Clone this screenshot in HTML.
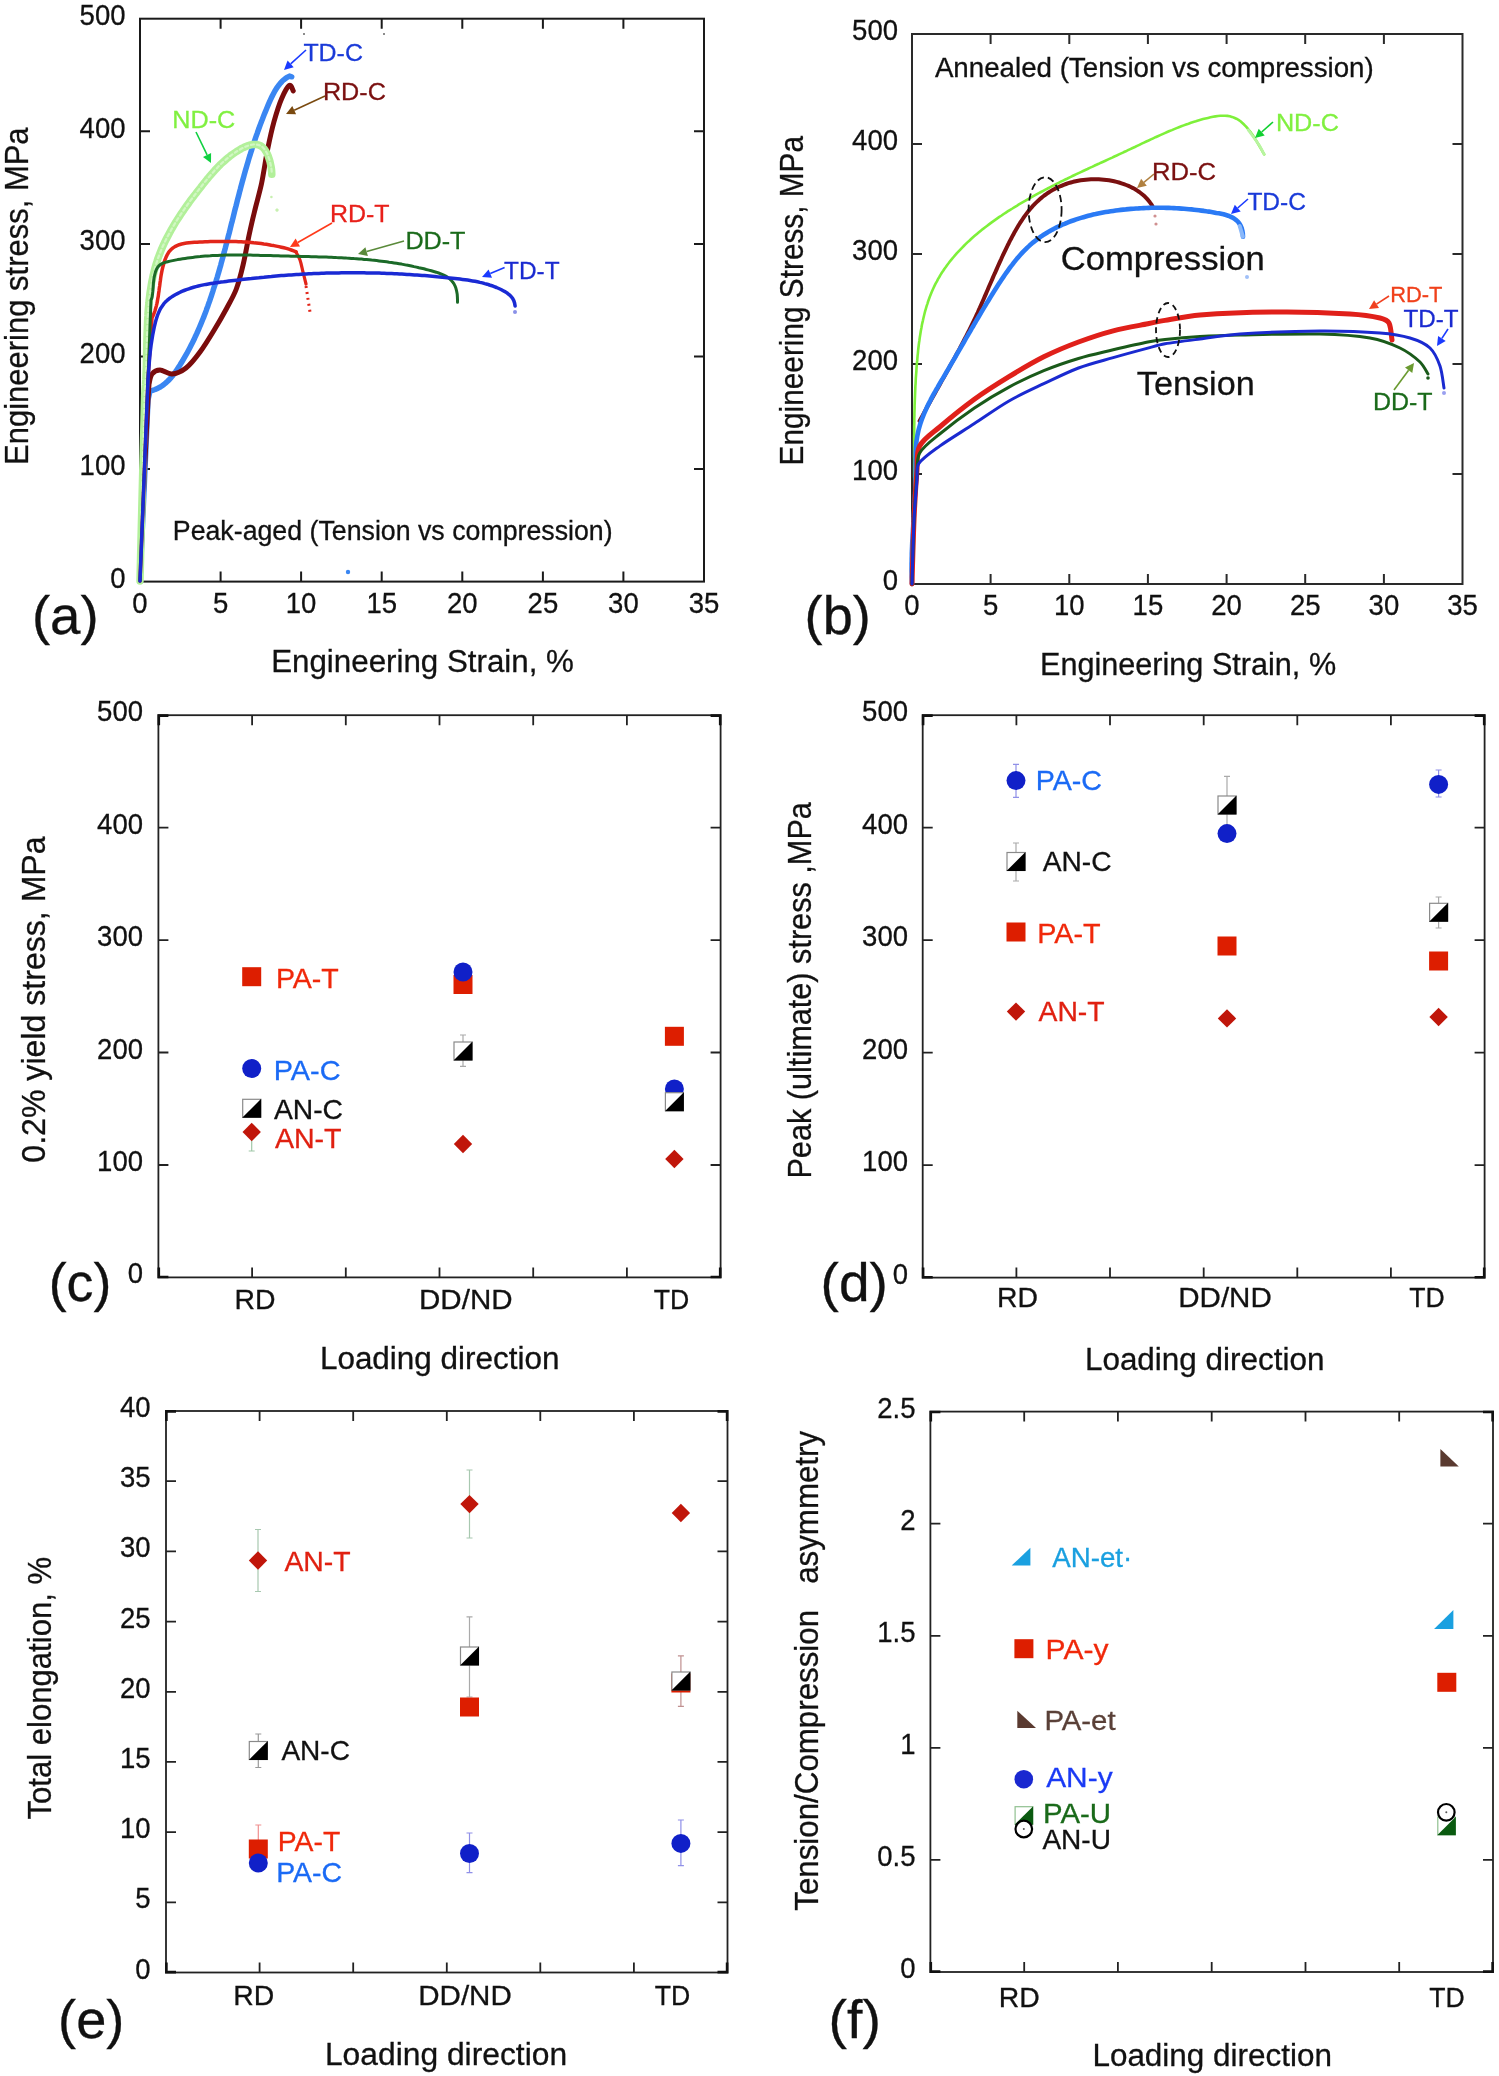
<!DOCTYPE html>
<html><head><meta charset="utf-8"><style>
html,body{margin:0;padding:0;background:#fff;}
svg{display:block;will-change:transform;}
text{font-family:"Liberation Sans", sans-serif;}
</style></head><body>
<svg width="1499" height="2076" viewBox="0 0 1499 2076">
<rect width="1499" height="2076" fill="#fff"/>
<rect x="140.0" y="18.7" width="564.0" height="562.9" fill="none" stroke="#1a1a1a" stroke-width="2"/>
<path d="M220.6,581.6V571.6M220.6,18.7V28.7M301.1,581.6V571.6M301.1,18.7V28.7M381.7,581.6V571.6M381.7,18.7V28.7M462.3,581.6V571.6M462.3,18.7V28.7M542.9,581.6V571.6M542.9,18.7V28.7M623.4,581.6V571.6M623.4,18.7V28.7M140.0,469.0H150.0M704.0,469.0H694.0M140.0,356.4H150.0M704.0,356.4H694.0M140.0,243.9H150.0M704.0,243.9H694.0M140.0,131.3H150.0M704.0,131.3H694.0" stroke="#1a1a1a" stroke-width="2" fill="none"/>
<text x="125.5" y="587.9" font-size="29.5" fill="#111" stroke="#111" stroke-width="0.3" text-anchor="end" textLength="15.3" lengthAdjust="spacingAndGlyphs" xml:space="preserve">0</text>
<text x="125.5" y="475.3" font-size="29.5" fill="#111" stroke="#111" stroke-width="0.3" text-anchor="end" textLength="45.9" lengthAdjust="spacingAndGlyphs" xml:space="preserve">100</text>
<text x="125.5" y="362.7" font-size="29.5" fill="#111" stroke="#111" stroke-width="0.3" text-anchor="end" textLength="45.9" lengthAdjust="spacingAndGlyphs" xml:space="preserve">200</text>
<text x="125.5" y="250.2" font-size="29.5" fill="#111" stroke="#111" stroke-width="0.3" text-anchor="end" textLength="45.9" lengthAdjust="spacingAndGlyphs" xml:space="preserve">300</text>
<text x="125.5" y="137.6" font-size="29.5" fill="#111" stroke="#111" stroke-width="0.3" text-anchor="end" textLength="45.9" lengthAdjust="spacingAndGlyphs" xml:space="preserve">400</text>
<text x="125.5" y="25.0" font-size="29.5" fill="#111" stroke="#111" stroke-width="0.3" text-anchor="end" textLength="45.9" lengthAdjust="spacingAndGlyphs" xml:space="preserve">500</text>
<text x="140.0" y="613.0" font-size="29.5" fill="#111" stroke="#111" stroke-width="0.3" text-anchor="middle" textLength="15.3" lengthAdjust="spacingAndGlyphs" xml:space="preserve">0</text>
<text x="220.6" y="613.0" font-size="29.5" fill="#111" stroke="#111" stroke-width="0.3" text-anchor="middle" textLength="15.3" lengthAdjust="spacingAndGlyphs" xml:space="preserve">5</text>
<text x="301.1" y="613.0" font-size="29.5" fill="#111" stroke="#111" stroke-width="0.3" text-anchor="middle" textLength="30.6" lengthAdjust="spacingAndGlyphs" xml:space="preserve">10</text>
<text x="381.7" y="613.0" font-size="29.5" fill="#111" stroke="#111" stroke-width="0.3" text-anchor="middle" textLength="30.6" lengthAdjust="spacingAndGlyphs" xml:space="preserve">15</text>
<text x="462.3" y="613.0" font-size="29.5" fill="#111" stroke="#111" stroke-width="0.3" text-anchor="middle" textLength="30.6" lengthAdjust="spacingAndGlyphs" xml:space="preserve">20</text>
<text x="542.9" y="613.0" font-size="29.5" fill="#111" stroke="#111" stroke-width="0.3" text-anchor="middle" textLength="30.6" lengthAdjust="spacingAndGlyphs" xml:space="preserve">25</text>
<text x="623.4" y="613.0" font-size="29.5" fill="#111" stroke="#111" stroke-width="0.3" text-anchor="middle" textLength="30.6" lengthAdjust="spacingAndGlyphs" xml:space="preserve">30</text>
<text x="704.0" y="613.0" font-size="29.5" fill="#111" stroke="#111" stroke-width="0.3" text-anchor="middle" textLength="30.6" lengthAdjust="spacingAndGlyphs" xml:space="preserve">35</text>
<text x="31.9" y="633.7" font-size="53" fill="#111" stroke="#111" stroke-width="0.3" textLength="66.8" lengthAdjust="spacingAndGlyphs" xml:space="preserve">(a)</text>
<text x="271.2" y="672.0" font-size="31" fill="#111" stroke="#111" stroke-width="0.3" textLength="302.7" lengthAdjust="spacingAndGlyphs" xml:space="preserve">Engineering Strain, %</text>
<text transform="translate(28.4,464.9) rotate(-90)" x="0" y="0" font-size="34" fill="#111" stroke="#111" stroke-width="0.3" textLength="337.5" lengthAdjust="spacingAndGlyphs" xml:space="preserve">Engineering stress, MPa</text>
<text x="172.8" y="540.0" font-size="27" fill="#111" stroke="#111" stroke-width="0.3" textLength="439.8" lengthAdjust="spacingAndGlyphs" xml:space="preserve">Peak-aged (Tension vs compression)</text>
<path d="M140.0,581.0 L144.5,480.0 L148.0,400.0 L150.0,391.0 L149.9,391.0 L152.6,390.3 L155.1,389.5 L157.4,388.4 L159.7,387.3 L161.8,386.0 L163.9,384.5 L165.8,382.9 L167.6,381.3 L169.4,379.5 L171.1,377.6 L172.7,375.7 L174.2,373.7 L175.7,371.6 L177.1,369.5 L178.5,367.3 L179.9,365.2 L181.2,363.0 L182.6,360.8 L183.8,358.6 L185.1,356.4 L186.4,354.2 L187.6,352.0 L188.8,349.8 L190.0,347.5 L191.1,345.3 L192.3,343.0 L193.4,340.8 L194.5,338.5 L195.5,336.2 L196.6,333.9 L197.6,331.6 L198.6,329.3 L199.6,327.0 L200.6,324.7 L201.6,322.3 L202.5,320.0 L203.5,317.7 L204.4,315.3 L205.3,313.0 L206.2,310.6 L207.0,308.2 L207.9,305.9 L208.7,303.5 L209.6,301.1 L210.4,298.7 L211.2,296.3 L212.0,293.9 L212.8,291.5 L213.5,289.1 L214.3,286.7 L215.1,284.3 L215.8,281.9 L216.5,279.5 L217.3,277.0 L218.0,274.6 L218.7,272.2 L219.4,269.7 L220.1,267.3 L220.8,264.9 L221.4,262.4 L222.1,260.0 L222.8,257.5 L223.4,255.1 L224.1,252.6 L224.7,250.2 L225.4,247.7 L226.0,245.3 L226.7,242.8 L227.3,240.4 L227.9,237.9 L228.5,235.5 L229.2,233.0 L229.8,230.6 L230.4,228.1 L231.0,225.6 L231.6,223.2 L232.3,220.7 L232.9,218.3 L233.5,215.8 L234.1,213.4 L234.7,210.9 L235.3,208.5 L236.0,206.0 L236.6,203.6 L237.2,201.1 L237.8,198.7 L238.5,196.3 L239.1,193.8 L239.7,191.4 L240.4,188.9 L241.0,186.5 L241.7,184.1 L242.3,181.7 L243.0,179.2 L243.7,176.8 L244.3,174.4 L245.0,172.0 L245.7,169.6 L246.4,167.2 L247.1,164.8 L247.8,162.4 L248.5,160.0 L249.2,157.6 L250.0,155.2 L250.7,152.8 L251.5,150.4 L252.2,148.0 L253.0,145.6 L253.8,143.2 L254.6,140.8 L255.4,138.4 L256.2,136.0 L257.1,133.6 L257.9,131.2 L258.8,128.8 L259.6,126.5 L260.5,124.1 L261.4,121.7 L262.4,119.3 L263.3,116.9 L264.2,114.5 L265.2,112.1 L266.2,109.7 L267.2,107.3 L268.2,104.9 L269.2,102.5 L270.3,100.1 L271.4,97.8 L272.5,95.5 L273.7,93.2 L274.9,91.0 L276.2,88.9 L277.6,86.8 L279.0,84.9 L280.5,83.1 L282.1,81.3 L283.8,79.8 L285.6,78.3 L287.5,77.1 L289.5,76.1 L291.7,76.8" fill="none" stroke="#3a86f2" stroke-width="5.5" stroke-linecap="round" stroke-linejoin="round"/>
<path d="M140.0,581.0 L144.0,480.0 L148.0,400.0 L149.0,384.0 L149.0,384.0 C149.5,382.3 150.2,376.3 152.0,374.0 C153.8,371.7 157.0,370.0 160.0,370.0 C163.3,370.0 167.8,374.3 172.0,374.0 C176.3,373.7 182.0,371.1 186.0,368.0 C190.7,364.3 195.8,357.7 200.0,352.0 C204.7,345.7 209.8,337.3 214.2,330.0 C218.6,322.8 223.0,315.0 226.7,308.2 C230.1,301.9 233.8,295.7 236.3,289.0 C239.0,281.8 241.2,273.0 243.1,264.9 C245.2,256.1 247.4,243.2 248.9,236.0 C249.9,231.3 250.9,226.7 252.0,222.0 C253.1,217.2 254.4,212.1 255.6,207.1 C257.2,200.7 259.9,191.3 261.6,183.3 C263.6,173.6 265.7,158.9 267.8,148.6 C269.6,139.6 271.7,130.1 274.0,121.7 C276.2,113.8 279.1,104.5 281.7,98.5 C283.7,93.8 287.5,86.7 289.4,85.4 C291.2,84.2 292.6,89.9 293.2,90.8" fill="none" stroke="#7a0c0c" stroke-width="5" stroke-linecap="round" stroke-linejoin="round"/>
<path d="M140.0,581.0 L142.0,500.0 L144.7,394.6 L144.7,394.5 L144.9,392.1 L145.1,389.6 L145.3,387.2 L145.5,384.7 L145.6,382.2 L145.8,379.7 L145.9,377.2 L146.0,374.7 L146.1,372.2 L146.2,369.7 L146.3,367.2 L146.4,364.6 L146.4,362.1 L146.5,359.6 L146.6,357.0 L146.6,354.4 L146.7,351.9 L146.7,349.3 L146.8,346.8 L146.8,344.2 L146.9,341.6 L146.9,339.1 L147.0,336.5 L147.1,333.9 L147.2,331.4 L147.3,328.8 L147.4,326.2 L147.5,323.6 L147.6,321.1 L147.7,318.5 L147.9,316.0 L148.0,313.4 L148.2,310.8 L148.4,308.3 L148.6,305.7 L148.9,303.2 L149.1,300.7 L149.4,298.1 L149.7,295.6 L150.0,293.1 L150.4,290.6 L150.8,288.1 L151.2,285.6 L151.6,283.1 L152.1,280.6 L152.6,278.2 L153.1,275.7 L153.7,273.3 L154.3,270.9 L154.9,268.4 L155.6,266.0 L156.3,263.6 L157.1,261.2 L157.8,258.9 L158.7,256.5 L159.6,254.2 L160.5,251.9 L161.4,249.5 L162.4,247.2 L163.4,245.0 L164.5,242.7 L165.6,240.4 L166.7,238.2 L167.9,235.9 L169.1,233.7 L170.3,231.5 L171.5,229.3 L172.8,227.1 L174.1,224.9 L175.4,222.7 L176.7,220.6 L178.1,218.4 L179.5,216.3 L180.9,214.2 L182.3,212.1 L183.8,210.0 L185.2,207.9 L186.7,205.8 L188.2,203.7 L189.7,201.6 L191.2,199.6 L192.8,197.5 L194.3,195.5 L195.9,193.5 L197.4,191.5 L199.0,189.5 L200.6,187.5 L202.1,185.5 L203.7,183.5 L205.3,181.5 L206.9,179.5 L208.5,177.6 L210.1,175.7 L211.8,173.8 L213.4,171.9 L215.1,170.0 L216.9,168.2 L218.6,166.3 L220.4,164.5 L222.3,162.8 L224.2,161.1 L226.1,159.4 L228.1,157.7 L230.1,156.1 L232.2,154.5 L234.4,153.0 L236.6,151.5 L238.9,150.1 L241.2,148.7 L243.6,147.5 L245.9,146.5 L248.3,145.6 L250.6,144.9 L252.9,144.5 L255.0,144.4 L257.1,144.6 L259.1,145.1 L261.0,146.0 L262.7,147.3 L264.3,149.0 L265.7,151.1 L267.0,153.3 L268.1,155.8 L269.0,158.5 L269.9,161.2 L270.5,164.0 L271.1,166.7 L271.5,169.4 L271.7,171.9 L271.8,174.3" fill="none" stroke="#b2f09a" stroke-width="7.5" stroke-linecap="round" stroke-linejoin="round"/>
<path d="M140.0,581.0 L142.0,500.0 L144.7,394.6 L144.7,394.5 L144.9,392.1 L145.1,389.6 L145.3,387.2 L145.5,384.7 L145.6,382.2 L145.8,379.7 L145.9,377.2 L146.0,374.7 L146.1,372.2 L146.2,369.7 L146.3,367.2 L146.4,364.6 L146.4,362.1 L146.5,359.6 L146.6,357.0 L146.6,354.4 L146.7,351.9 L146.7,349.3 L146.8,346.8 L146.8,344.2 L146.9,341.6 L146.9,339.1 L147.0,336.5 L147.1,333.9 L147.2,331.4 L147.3,328.8 L147.4,326.2 L147.5,323.6 L147.6,321.1 L147.7,318.5 L147.9,316.0 L148.0,313.4 L148.2,310.8 L148.4,308.3 L148.6,305.7 L148.9,303.2 L149.1,300.7 L149.4,298.1 L149.7,295.6 L150.0,293.1 L150.4,290.6 L150.8,288.1 L151.2,285.6 L151.6,283.1 L152.1,280.6 L152.6,278.2 L153.1,275.7 L153.7,273.3 L154.3,270.9 L154.9,268.4 L155.6,266.0 L156.3,263.6 L157.1,261.2 L157.8,258.9 L158.7,256.5 L159.6,254.2 L160.5,251.9 L161.4,249.5 L162.4,247.2 L163.4,245.0 L164.5,242.7 L165.6,240.4 L166.7,238.2 L167.9,235.9 L169.1,233.7 L170.3,231.5 L171.5,229.3 L172.8,227.1 L174.1,224.9 L175.4,222.7 L176.7,220.6 L178.1,218.4 L179.5,216.3 L180.9,214.2 L182.3,212.1 L183.8,210.0 L185.2,207.9 L186.7,205.8 L188.2,203.7 L189.7,201.6 L191.2,199.6 L192.8,197.5 L194.3,195.5 L195.9,193.5 L197.4,191.5 L199.0,189.5 L200.6,187.5 L202.1,185.5 L203.7,183.5 L205.3,181.5 L206.9,179.5 L208.5,177.6 L210.1,175.7 L211.8,173.8 L213.4,171.9 L215.1,170.0 L216.9,168.2 L218.6,166.3 L220.4,164.5 L222.3,162.8 L224.2,161.1 L226.1,159.4 L228.1,157.7 L230.1,156.1 L232.2,154.5 L234.4,153.0 L236.6,151.5 L238.9,150.1 L241.2,148.7 L243.6,147.5 L245.9,146.5 L248.3,145.6 L250.6,144.9 L252.9,144.5 L255.0,144.4 L257.1,144.6 L259.1,145.1 L261.0,146.0 L262.7,147.3 L264.3,149.0 L265.7,151.1 L267.0,153.3 L268.1,155.8 L269.0,158.5 L269.9,161.2 L270.5,164.0 L271.1,166.7 L271.5,169.4 L271.7,171.9 L271.8,174.3" fill="none" stroke="#d2f7c4" stroke-width="2.2" stroke-linecap="round" stroke-linejoin="round" stroke-dasharray="3,3"/>
<path d="M140.0,581.0 L148.0,380.0 L152.0,318.0 L152.0,318.0 L153.1,315.7 L154.0,313.4 L154.9,311.0 L155.6,308.6 L156.3,306.1 L156.9,303.7 L157.4,301.2 L157.8,298.6 L158.3,296.1 L158.6,293.5 L159.0,290.9 L159.3,288.3 L159.7,285.7 L160.0,283.1 L160.4,280.5 L160.7,277.9 L161.1,275.3 L161.6,272.7 L162.1,270.1 L162.7,267.5 L163.4,265.0 L164.1,262.5 L164.9,260.0 L165.9,257.6 L167.0,255.2 L168.2,253.1 L169.6,251.1 L171.2,249.3 L173.0,247.9 L174.9,246.6 L177.0,245.6 L179.2,244.7 L181.6,244.0 L184.0,243.5 L186.5,243.1 L189.1,242.7 L191.8,242.5 L194.4,242.3 L197.1,242.2 L199.7,242.0 L202.4,241.9 L205.0,241.8 L207.6,241.7 L210.3,241.6 L212.9,241.6 L215.5,241.5 L218.1,241.5 L220.6,241.4 L223.2,241.4 L225.8,241.4 L228.3,241.4 L230.9,241.5 L233.4,241.5 L236.0,241.6 L238.5,241.7 L241.1,241.8 L243.6,242.0 L246.1,242.1 L248.6,242.3 L251.2,242.5 L253.7,242.8 L256.2,243.0 L258.7,243.3 L261.2,243.6 L263.8,244.0 L266.3,244.3 L268.8,244.7 L271.3,245.2 L273.8,245.6 L276.3,246.1 L278.9,246.6 L281.4,247.2 L283.9,247.8 L286.4,248.4 L288.9,249.2 L291.3,250.0 L293.7,250.9 L296.1,251.9" fill="none" stroke="#e2261a" stroke-width="3.5" stroke-linecap="round" stroke-linejoin="round"/>
<path d="M296.0,252.0 C296.7,253.3 299.0,257.2 300.0,260.0 C301.2,263.3 302.0,268.0 303.0,272.0 C304.0,276.0 305.5,282.0 306.0,284.0" fill="none" stroke="#e2261a" stroke-width="3.2" stroke-linecap="round" stroke-linejoin="round"/>
<path d="M306,286 L310,312" stroke="#e2261a" stroke-width="3" stroke-dasharray="2,4" fill="none"/>
<path d="M140.0,581.0 L148.0,380.0 L151.0,300.0 L151.0,300.0 L151.7,298.5 L152.2,296.6 L152.5,294.4 L152.8,291.9 L153.0,289.2 L153.2,286.3 L153.4,283.4 L153.7,280.5 L154.1,277.6 L154.7,274.8 L155.4,272.1 L156.3,269.7 L157.5,267.5 L159.0,265.7 L160.8,264.3 L162.9,263.2 L165.2,262.4 L167.7,261.7 L170.2,261.1 L172.7,260.6 L175.1,260.1 L177.6,259.6 L180.1,259.2 L182.6,258.8 L185.1,258.4 L187.6,258.0 L190.1,257.7 L192.6,257.4 L195.1,257.1 L197.7,256.8 L200.2,256.6 L202.7,256.3 L205.2,256.1 L207.7,255.9 L210.2,255.8 L212.7,255.6 L215.2,255.5 L217.7,255.4 L220.3,255.3 L222.8,255.2 L225.3,255.1 L227.8,255.1 L230.3,255.1 L232.9,255.0 L235.4,255.0 L237.9,255.0 L240.4,255.0 L242.9,255.0 L245.5,255.1 L248.0,255.1 L250.5,255.1 L253.0,255.2 L255.6,255.2 L258.1,255.3 L260.6,255.4 L263.2,255.4 L265.7,255.5 L268.2,255.6 L270.7,255.6 L273.3,255.7 L275.8,255.8 L278.3,255.8 L280.8,255.9 L283.4,256.0 L285.9,256.0 L288.4,256.1 L291.0,256.2 L293.5,256.2 L296.0,256.3 L298.6,256.3 L301.1,256.4 L303.6,256.5 L306.1,256.5 L308.7,256.6 L311.2,256.7 L313.7,256.7 L316.2,256.8 L318.8,256.9 L321.3,257.0 L323.8,257.0 L326.3,257.1 L328.9,257.2 L331.4,257.3 L333.9,257.4 L336.4,257.6 L339.0,257.7 L341.5,257.8 L344.0,257.9 L346.5,258.1 L349.0,258.2 L351.5,258.4 L354.1,258.6 L356.6,258.7 L359.1,258.9 L361.6,259.1 L364.1,259.4 L366.6,259.6 L369.1,259.8 L371.6,260.1 L374.1,260.3 L376.6,260.6 L379.1,260.9 L381.6,261.2 L384.1,261.5 L386.6,261.8 L389.1,262.2 L391.6,262.5 L394.1,262.9 L396.6,263.3 L399.1,263.7 L401.6,264.1 L404.1,264.6 L406.5,265.1 L409.0,265.5 L411.5,266.0 L414.0,266.6 L416.5,267.1 L418.9,267.7 L421.4,268.2 L423.9,268.8 L426.3,269.5 L428.8,270.1 L431.3,270.8 L433.7,271.5 L436.2,272.2 L438.6,273.0 L440.9,273.8 L443.2,274.8 L445.3,275.9 L447.4,277.1 L449.3,278.5 L451.0,280.1 L452.6,281.9 L454.0,283.9 L455.1,286.1 L456.0,288.6 L456.7,291.4 L457.2,294.2 L457.4,297.1 L457.5,299.9 L457.5,302.3" fill="none" stroke="#1b6a28" stroke-width="3" stroke-linecap="round" stroke-linejoin="round"/>
<path d="M140.0,581.0 L148.0,380.0 L148.0,380.0 L148.2,377.5 L148.3,374.9 L148.5,372.4 L148.7,369.9 L148.9,367.4 L149.1,364.9 L149.3,362.4 L149.5,359.9 L149.7,357.4 L150.0,354.9 L150.2,352.4 L150.5,349.9 L150.8,347.5 L151.1,345.0 L151.5,342.5 L151.9,340.0 L152.3,337.5 L152.7,335.0 L153.2,332.4 L153.7,329.9 L154.2,327.4 L154.8,324.8 L155.4,322.3 L156.1,319.8 L156.9,317.3 L157.7,314.8 L158.7,312.4 L159.8,310.1 L160.9,307.9 L162.3,305.9 L163.7,303.9 L165.3,302.1 L167.1,300.4 L169.0,298.8 L171.0,297.4 L173.1,296.0 L175.2,294.7 L177.4,293.6 L179.6,292.5 L181.8,291.4 L184.1,290.5 L186.4,289.6 L188.8,288.8 L191.2,288.0 L193.6,287.3 L196.0,286.6 L198.4,286.0 L200.9,285.4 L203.4,284.9 L205.9,284.4 L208.4,284.0 L210.9,283.6 L213.5,283.2 L216.0,282.8 L218.6,282.4 L221.1,282.1 L223.7,281.8 L226.2,281.4 L228.7,281.1 L231.3,280.8 L233.8,280.5 L236.3,280.2 L238.8,279.9 L241.4,279.6 L243.9,279.3 L246.4,279.0 L248.9,278.7 L251.4,278.5 L253.9,278.2 L256.4,277.9 L258.9,277.7 L261.4,277.4 L263.9,277.2 L266.4,276.9 L268.9,276.7 L271.4,276.5 L273.8,276.2 L276.3,276.0 L278.8,275.8 L281.3,275.6 L283.8,275.4 L286.3,275.2 L288.8,275.0 L291.3,274.9 L293.8,274.7 L296.3,274.5 L298.8,274.4 L301.3,274.2 L303.8,274.1 L306.3,274.0 L308.8,273.8 L311.3,273.7 L313.8,273.6 L316.3,273.5 L318.8,273.4 L321.3,273.3 L323.9,273.2 L326.4,273.1 L328.9,273.1 L331.4,273.0 L333.9,273.0 L336.4,272.9 L338.9,272.9 L341.4,272.8 L343.9,272.8 L346.5,272.8 L349.0,272.8 L351.5,272.8 L354.0,272.8 L356.5,272.8 L359.0,272.8 L361.6,272.8 L364.1,272.8 L366.6,272.9 L369.1,272.9 L371.6,273.0 L374.2,273.0 L376.7,273.1 L379.2,273.1 L381.7,273.2 L384.2,273.3 L386.8,273.4 L389.3,273.5 L391.8,273.6 L394.3,273.7 L396.9,273.8 L399.4,274.0 L401.9,274.1 L404.4,274.2 L407.0,274.4 L409.5,274.5 L412.0,274.7 L414.5,274.9 L417.1,275.0 L419.6,275.2 L422.1,275.4 L424.6,275.6 L427.2,275.8 L429.7,276.0 L432.2,276.2 L434.7,276.4 L437.3,276.7 L439.8,276.9 L442.3,277.2 L444.9,277.4 L447.4,277.7 L449.9,277.9 L452.4,278.2 L455.0,278.5 L457.5,278.8 L460.0,279.1 L462.5,279.4 L465.1,279.7 L467.6,280.1 L470.1,280.5 L472.5,280.9 L475.0,281.3 L477.5,281.8 L479.9,282.4 L482.4,282.9 L484.8,283.6 L487.2,284.2 L489.5,285.0 L491.9,285.7 L494.2,286.6 L496.5,287.5 L498.8,288.5 L501.0,289.5 L503.2,290.7 L505.4,291.9 L507.5,293.3 L509.4,294.8 L511.1,296.5 L512.6,298.4 L513.8,300.6 L514.6,303.1 L515.1,306.0" fill="none" stroke="#1a2ad4" stroke-width="3.5" stroke-linecap="round" stroke-linejoin="round"/>
<circle cx="277.0" cy="210.0" r="1.5" fill="#c8f0b0"/>
<circle cx="271.4" cy="197.0" r="1.3" fill="#c8f0b0"/>
<circle cx="515.0" cy="312.0" r="2" fill="#8a90e8"/>
<circle cx="277.0" cy="210.0" r="1.5" fill="#c8f0b0"/>
<circle cx="348.0" cy="572.0" r="2.2" fill="#3a86f2"/>
<circle cx="304.0" cy="34.0" r="1" fill="#666"/>
<circle cx="384.0" cy="34.0" r="1" fill="#666"/>
<line x1="306.0" y1="50.0" x2="290.7" y2="63.9" stroke="#1a3aff" stroke-width="1.6"/>
<polygon points="284.0,70.0 287.6,60.6 293.7,67.3" fill="#1a3aff"/>
<line x1="325.0" y1="96.0" x2="294.2" y2="110.2" stroke="#7a4a10" stroke-width="1.6"/>
<polygon points="286.0,114.0 292.3,106.1 296.1,114.3" fill="#7a4a10"/>
<line x1="196.0" y1="132.0" x2="207.1" y2="154.9" stroke="#10d040" stroke-width="1.6"/>
<polygon points="211.0,163.0 203.0,156.9 211.1,152.9" fill="#10d040"/>
<line x1="332.0" y1="223.0" x2="297.8" y2="242.5" stroke="#ff3a1a" stroke-width="1.6"/>
<polygon points="290.0,247.0 295.6,238.6 300.0,246.4" fill="#ff3a1a"/>
<line x1="404.0" y1="241.0" x2="366.7" y2="251.6" stroke="#5a8a3a" stroke-width="1.6"/>
<polygon points="358.0,254.0 365.4,247.2 367.9,255.9" fill="#5a8a3a"/>
<line x1="504.6" y1="267.5" x2="490.3" y2="273.5" stroke="#1a3aff" stroke-width="1.6"/>
<polygon points="482.0,277.0 488.6,269.4 492.0,277.7" fill="#1a3aff"/>
<text x="303.4" y="61.0" font-size="24.5" fill="#1a3ad8" stroke="#1a3ad8" stroke-width="0.3" textLength="59.5" lengthAdjust="spacingAndGlyphs" xml:space="preserve">TD-C</text>
<text x="322.9" y="100.0" font-size="24.5" fill="#7a1010" stroke="#7a1010" stroke-width="0.3" textLength="63.0" lengthAdjust="spacingAndGlyphs" xml:space="preserve">RD-C</text>
<text x="172.3" y="128.0" font-size="24.5" fill="#80f040" stroke="#80f040" stroke-width="0.3" textLength="63.0" lengthAdjust="spacingAndGlyphs" xml:space="preserve">ND-C</text>
<text x="330.0" y="222.0" font-size="24.5" fill="#e8201a" stroke="#e8201a" stroke-width="0.3" textLength="59.6" lengthAdjust="spacingAndGlyphs" xml:space="preserve">RD-T</text>
<text x="405.4" y="249.4" font-size="24.5" fill="#1a6a1a" stroke="#1a6a1a" stroke-width="0.3" textLength="60.1" lengthAdjust="spacingAndGlyphs" xml:space="preserve">DD-T</text>
<text x="504.1" y="279.3" font-size="24.5" fill="#1a2ad0" stroke="#1a2ad0" stroke-width="0.3" textLength="55.5" lengthAdjust="spacingAndGlyphs" xml:space="preserve">TD-T</text>
<rect x="912.0" y="34.0" width="550.5" height="550.0" fill="none" stroke="#2a2a2a" stroke-width="2"/>
<path d="M990.6,584.0V574.0M990.6,34.0V44.0M1069.3,584.0V574.0M1069.3,34.0V44.0M1147.9,584.0V574.0M1147.9,34.0V44.0M1226.6,584.0V574.0M1226.6,34.0V44.0M1305.2,584.0V574.0M1305.2,34.0V44.0M1383.9,584.0V574.0M1383.9,34.0V44.0M912.0,474.0H922.0M1462.5,474.0H1452.5M912.0,364.0H922.0M1462.5,364.0H1452.5M912.0,254.0H922.0M1462.5,254.0H1452.5M912.0,144.0H922.0M1462.5,144.0H1452.5" stroke="#2a2a2a" stroke-width="2" fill="none"/>
<text x="898.0" y="590.3" font-size="29.5" fill="#111" stroke="#111" stroke-width="0.3" text-anchor="end" textLength="15.3" lengthAdjust="spacingAndGlyphs" xml:space="preserve">0</text>
<text x="898.0" y="480.3" font-size="29.5" fill="#111" stroke="#111" stroke-width="0.3" text-anchor="end" textLength="45.9" lengthAdjust="spacingAndGlyphs" xml:space="preserve">100</text>
<text x="898.0" y="370.3" font-size="29.5" fill="#111" stroke="#111" stroke-width="0.3" text-anchor="end" textLength="45.9" lengthAdjust="spacingAndGlyphs" xml:space="preserve">200</text>
<text x="898.0" y="260.3" font-size="29.5" fill="#111" stroke="#111" stroke-width="0.3" text-anchor="end" textLength="45.9" lengthAdjust="spacingAndGlyphs" xml:space="preserve">300</text>
<text x="898.0" y="150.3" font-size="29.5" fill="#111" stroke="#111" stroke-width="0.3" text-anchor="end" textLength="45.9" lengthAdjust="spacingAndGlyphs" xml:space="preserve">400</text>
<text x="898.0" y="40.3" font-size="29.5" fill="#111" stroke="#111" stroke-width="0.3" text-anchor="end" textLength="45.9" lengthAdjust="spacingAndGlyphs" xml:space="preserve">500</text>
<text x="912.0" y="615.0" font-size="29.5" fill="#111" stroke="#111" stroke-width="0.3" text-anchor="middle" textLength="15.3" lengthAdjust="spacingAndGlyphs" xml:space="preserve">0</text>
<text x="990.6" y="615.0" font-size="29.5" fill="#111" stroke="#111" stroke-width="0.3" text-anchor="middle" textLength="15.3" lengthAdjust="spacingAndGlyphs" xml:space="preserve">5</text>
<text x="1069.3" y="615.0" font-size="29.5" fill="#111" stroke="#111" stroke-width="0.3" text-anchor="middle" textLength="30.6" lengthAdjust="spacingAndGlyphs" xml:space="preserve">10</text>
<text x="1147.9" y="615.0" font-size="29.5" fill="#111" stroke="#111" stroke-width="0.3" text-anchor="middle" textLength="30.6" lengthAdjust="spacingAndGlyphs" xml:space="preserve">15</text>
<text x="1226.6" y="615.0" font-size="29.5" fill="#111" stroke="#111" stroke-width="0.3" text-anchor="middle" textLength="30.6" lengthAdjust="spacingAndGlyphs" xml:space="preserve">20</text>
<text x="1305.2" y="615.0" font-size="29.5" fill="#111" stroke="#111" stroke-width="0.3" text-anchor="middle" textLength="30.6" lengthAdjust="spacingAndGlyphs" xml:space="preserve">25</text>
<text x="1383.9" y="615.0" font-size="29.5" fill="#111" stroke="#111" stroke-width="0.3" text-anchor="middle" textLength="30.6" lengthAdjust="spacingAndGlyphs" xml:space="preserve">30</text>
<text x="1462.5" y="615.0" font-size="29.5" fill="#111" stroke="#111" stroke-width="0.3" text-anchor="middle" textLength="30.6" lengthAdjust="spacingAndGlyphs" xml:space="preserve">35</text>
<text x="804.6" y="633.5" font-size="53" fill="#111" stroke="#111" stroke-width="0.3" textLength="66.2" lengthAdjust="spacingAndGlyphs" xml:space="preserve">(b)</text>
<text x="1040.0" y="675.0" font-size="31" fill="#111" stroke="#111" stroke-width="0.3" textLength="296.1" lengthAdjust="spacingAndGlyphs" xml:space="preserve">Engineering Strain, %</text>
<text transform="translate(803.0,465.4) rotate(-90)" x="0" y="0" font-size="33.5" fill="#111" stroke="#111" stroke-width="0.3" textLength="329.4" lengthAdjust="spacingAndGlyphs" xml:space="preserve">Engineering Stress, MPa</text>
<text x="934.9" y="77.0" font-size="27" fill="#111" stroke="#111" stroke-width="0.3" textLength="438.8" lengthAdjust="spacingAndGlyphs" xml:space="preserve">Annealed (Tension vs compression)</text>
<path d="M911.9,584.0 L912.1,581.5 L912.3,578.9 L912.4,576.4 L912.6,573.9 L912.8,571.4 L912.9,568.8 L913.0,566.3 L913.2,563.8 L913.3,561.3 L913.4,558.7 L913.5,556.2 L913.6,553.7 L913.7,551.2 L913.8,548.7 L913.8,546.1 L913.9,543.6 L914.0,541.1 L914.0,538.6 L914.1,536.1 L914.1,533.6 L914.2,531.1 L914.2,528.6 L914.3,526.1 L914.3,523.6 L914.3,521.0 L914.3,518.5 L914.3,516.0 L914.3,513.5 L914.4,511.0 L914.4,508.5 L914.4,506.0 L914.4,503.5 L914.4,501.0 L914.4,498.5 L914.3,496.0 L914.3,493.5 L914.3,491.0 L914.3,488.5 L914.3,486.0 L914.3,483.5 L914.3,481.0 L914.3,478.5 L914.2,476.0 L914.2,473.5 L914.2,471.0 L914.2,468.5 L914.2,466.0 L914.2,463.5 L914.2,461.1 L914.2,458.6 L914.1,456.1 L914.1,453.6 L914.1,451.1 L914.1,448.6 L914.1,446.1 L914.1,443.6 L914.1,441.1 L914.1,438.6 L914.1,436.1 L914.2,433.6 L914.2,431.1 L914.2,428.6 L914.2,426.1 L914.3,423.6 L914.3,421.1 L914.3,418.5 L914.4,416.0 L914.4,413.5 L914.5,411.0 L914.6,408.5 L914.6,406.0 L914.7,403.5 L914.8,401.0 L914.9,398.5 L915.0,396.0 L915.1,393.5 L915.2,390.9 L915.3,388.4 L915.4,385.9 L915.6,383.4 L915.7,380.9 L915.8,378.4 L916.0,375.8 L916.2,373.3 L916.4,370.8 L916.5,368.3 L916.7,365.7 L916.9,363.2 L917.2,360.7 L917.4,358.2 L917.6,355.6 L917.9,353.1 L918.1,350.6 L918.4,348.0 L918.7,345.5 L919.0,343.0 L919.4,340.5 L919.7,338.0 L920.1,335.5 L920.5,333.0 L920.9,330.5 L921.4,328.0 L921.8,325.5 L922.3,323.1 L922.9,320.6 L923.4,318.2 L924.0,315.8 L924.6,313.3 L925.2,310.9 L925.9,308.6 L926.6,306.2 L927.4,303.8 L928.1,301.5 L928.9,299.2 L929.8,296.8 L930.7,294.6 L931.6,292.3 L932.6,290.0 L933.6,287.8 L934.6,285.6 L935.7,283.4 L936.9,281.3 L938.0,279.1 L939.3,277.0 L940.5,274.9 L941.8,272.8 L943.2,270.8 L944.5,268.7 L946.0,266.7 L947.4,264.7 L948.9,262.8 L950.4,260.8 L952.0,258.9 L953.6,257.0 L955.2,255.1 L956.9,253.2 L958.6,251.4 L960.3,249.6 L962.0,247.8 L963.8,246.0 L965.6,244.2 L967.4,242.4 L969.3,240.7 L971.1,239.0 L973.0,237.3 L975.0,235.6 L976.9,234.0 L978.9,232.3 L980.8,230.7 L982.8,229.1 L984.9,227.5 L986.9,226.0 L989.0,224.4 L991.0,222.9 L993.1,221.4 L995.2,219.9 L997.3,218.4 L999.4,216.9 L1001.6,215.5 L1003.7,214.0 L1005.9,212.6 L1008.0,211.2 L1010.2,209.8 L1012.4,208.5 L1014.6,207.1 L1016.8,205.8 L1018.9,204.4 L1021.1,203.1 L1023.3,201.8 L1025.5,200.6 L1027.7,199.3 L1029.9,198.0 L1032.1,196.8 L1034.3,195.6 L1036.5,194.4 L1038.8,193.2 L1041.0,192.0 L1043.2,190.8 L1045.4,189.6 L1047.6,188.5 L1049.8,187.3 L1052.0,186.2 L1054.2,185.1 L1056.4,183.9 L1058.6,182.8 L1060.8,181.7 L1063.1,180.6 L1065.3,179.5 L1067.5,178.5 L1069.7,177.4 L1071.9,176.3 L1074.1,175.3 L1076.4,174.2 L1078.6,173.1 L1080.8,172.1 L1083.1,171.0 L1085.3,170.0 L1087.5,169.0 L1089.7,167.9 L1092.0,166.9 L1094.2,165.8 L1096.5,164.8 L1098.7,163.8 L1100.9,162.7 L1103.2,161.7 L1105.4,160.7 L1107.7,159.6 L1109.9,158.6 L1112.2,157.6 L1114.4,156.5 L1116.7,155.5 L1119.0,154.4 L1121.2,153.4 L1123.5,152.3 L1125.8,151.3 L1128.0,150.2 L1130.3,149.1 L1132.6,148.0 L1134.9,147.0 L1137.1,145.9 L1139.4,144.8 L1141.7,143.7 L1144.0,142.6 L1146.3,141.5 L1148.6,140.5 L1150.9,139.4 L1153.2,138.3 L1155.5,137.2 L1157.8,136.2 L1160.2,135.1 L1162.5,134.1 L1164.8,133.1 L1167.2,132.0 L1169.5,131.0 L1171.9,130.1 L1174.2,129.1 L1176.6,128.1 L1178.9,127.2 L1181.3,126.3 L1183.7,125.4 L1186.1,124.5 L1188.5,123.7 L1190.9,122.8 L1193.3,122.0 L1195.8,121.3 L1198.2,120.5 L1200.6,119.8 L1203.1,119.1 L1205.5,118.5 L1208.0,117.9 L1210.5,117.3 L1213.0,116.8 L1215.4,116.4 L1217.9,116.0 L1220.3,115.8 L1222.7,115.7 L1225.1,115.7 L1227.4,115.9 L1229.8,116.3 L1232.0,116.9 L1234.2,117.7 L1236.4,118.7 L1238.5,119.9 L1240.5,121.3 L1242.4,123.0 L1244.3,124.8 L1246.1,126.7 L1247.8,128.7 L1249.5,130.8 L1251.1,132.9 L1252.6,135.1 L1254.1,137.3 L1255.5,139.5 L1256.8,141.7 L1258.1,143.8 L1259.4,146.0 L1260.6,148.1 L1261.8,150.2 L1263.0,152.3 L1264.2,154.3" fill="none" stroke="#7ef03a" stroke-width="2.6" stroke-linecap="round" stroke-linejoin="round"/>
<path d="M1248.2,129.9 C1250.0,132.4 1256.2,140.7 1258.9,144.8 C1260.9,147.9 1263.3,152.8 1264.2,154.4" fill="none" stroke="#b8f4a0" stroke-width="2.8" stroke-linecap="round" stroke-linejoin="round"/>
<path d="M919.6,421.0 L920.8,418.8 L922.0,416.6 L923.2,414.4 L924.4,412.1 L925.6,409.9 L926.8,407.7 L928.0,405.5 L929.3,403.3 L930.5,401.1 L931.7,398.9 L932.9,396.7 L934.2,394.5 L935.4,392.3 L936.6,390.1 L937.9,387.9 L939.1,385.7 L940.3,383.5 L941.5,381.3 L942.8,379.1 L944.0,377.0 L945.2,374.8 L946.5,372.6 L947.7,370.4 L948.9,368.2 L950.1,366.0 L951.3,363.8 L952.6,361.6 L953.8,359.4 L955.0,357.2 L956.2,355.0 L957.4,352.8 L958.6,350.6 L959.8,348.4 L960.9,346.2 L962.1,344.0 L963.3,341.7 L964.4,339.5 L965.6,337.3 L966.7,335.1 L967.9,332.8 L969.0,330.6 L970.1,328.3 L971.2,326.1 L972.3,323.8 L973.4,321.6 L974.5,319.3 L975.6,317.0 L976.6,314.8 L977.7,312.5 L978.7,310.2 L979.8,307.9 L980.8,305.6 L981.8,303.3 L982.8,301.0 L983.8,298.7 L984.8,296.4 L985.8,294.1 L986.8,291.8 L987.8,289.5 L988.8,287.1 L989.8,284.8 L990.8,282.5 L991.8,280.2 L992.8,277.9 L993.8,275.5 L994.9,273.2 L995.9,270.9 L996.9,268.6 L997.9,266.3 L999.0,263.9 L1000.0,261.6 L1001.1,259.3 L1002.1,257.0 L1003.2,254.7 L1004.3,252.4 L1005.4,250.1 L1006.5,247.8 L1007.6,245.5 L1008.8,243.2 L1009.9,240.9 L1011.1,238.7 L1012.3,236.4 L1013.5,234.2 L1014.7,231.9 L1016.0,229.7 L1017.3,227.5 L1018.6,225.3 L1019.9,223.2 L1021.3,221.1 L1022.7,219.0 L1024.1,216.9 L1025.6,214.9 L1027.1,212.9 L1028.6,210.9 L1030.2,209.0 L1031.8,207.2 L1033.4,205.3 L1035.1,203.6 L1036.9,201.9 L1038.7,200.2 L1040.5,198.6 L1042.4,197.0 L1044.3,195.5 L1046.3,194.1 L1048.3,192.7 L1050.4,191.4 L1052.5,190.1 L1054.7,188.9 L1056.9,187.8 L1059.1,186.8 L1061.4,185.8 L1063.7,184.8 L1066.0,184.0 L1068.4,183.2 L1070.8,182.5 L1073.2,181.8 L1075.7,181.2 L1078.2,180.7 L1080.7,180.3 L1083.3,180.0 L1085.8,179.7 L1088.4,179.5 L1091.0,179.3 L1093.5,179.2 L1096.1,179.2 L1098.7,179.3 L1101.3,179.5 L1103.9,179.7 L1106.5,180.0 L1109.0,180.3 L1111.6,180.8 L1114.1,181.3 L1116.6,181.9 L1119.0,182.5 L1121.5,183.3 L1123.9,184.1 L1126.2,185.0 L1128.5,185.9 L1130.8,187.0 L1133.0,188.1 L1135.2,189.3 L1137.2,190.6 L1139.3,192.0 L1141.2,193.5 L1143.1,195.0 L1144.9,196.6 L1146.6,198.4 L1148.2,200.2 L1149.7,202.1 L1151.2,204.1 L1152.5,206.2" fill="none" stroke="#7a1010" stroke-width="4" stroke-linecap="round" stroke-linejoin="round"/>
<circle cx="1155.0" cy="216.0" r="1.6" fill="#d09090"/>
<circle cx="1156.0" cy="224.0" r="1.6" fill="#d09090"/>
<path d="M912.0,584.0 L911.9,581.4 L911.8,578.9 L911.7,576.3 L911.7,573.8 L911.6,571.2 L911.6,568.7 L911.6,566.2 L911.6,563.6 L911.7,561.1 L911.7,558.6 L911.8,556.1 L911.8,553.6 L911.9,551.1 L912.0,548.6 L912.1,546.1 L912.2,543.6 L912.3,541.1 L912.5,538.6 L912.6,536.1 L912.7,533.6 L912.9,531.1 L913.0,528.6 L913.2,526.1 L913.3,523.6 L913.5,521.2 L913.6,518.7 L913.8,516.2 L913.9,513.7 L914.1,511.2 L914.3,508.7 L914.4,506.2 L914.5,503.7 L914.7,501.2 L914.8,498.7 L914.9,496.2 L915.1,493.7 L915.2,491.2 L915.3,488.7 L915.4,486.1 L915.5,483.6 L915.5,481.1 L915.6,478.6 L915.6,476.0 L915.7,473.5 L915.7,470.9 L915.7,468.4 L915.7,465.8 L915.7,463.3 L915.7,460.7 L915.7,458.1 L915.7,455.6 L915.7,453.0 L915.8,450.5 L915.9,448.0 L916.1,445.4 L916.3,442.9 L916.6,440.5 L917.0,438.0 L917.4,435.5 L917.9,433.1 L918.4,430.7 L919.0,428.3 L919.7,425.9 L920.4,423.5 L921.2,421.2 L922.1,418.8 L923.0,416.5 L923.9,414.2 L924.9,411.9 L925.9,409.6 L926.9,407.3 L928.0,405.1 L929.1,402.8 L930.3,400.6 L931.4,398.4 L932.6,396.1 L933.8,393.9 L935.1,391.7 L936.3,389.5 L937.6,387.3 L938.8,385.1 L940.1,382.9 L941.4,380.7 L942.7,378.6 L944.0,376.4 L945.3,374.2 L946.5,372.0 L947.8,369.9 L949.1,367.7 L950.3,365.5 L951.6,363.4 L952.9,361.2 L954.1,359.1 L955.4,356.9 L956.6,354.7 L957.8,352.6 L959.1,350.4 L960.3,348.3 L961.6,346.1 L962.8,344.0 L964.1,341.8 L965.3,339.7 L966.5,337.5 L967.8,335.4 L969.0,333.2 L970.3,331.1 L971.5,328.9 L972.8,326.8 L974.0,324.6 L975.3,322.5 L976.5,320.3 L977.8,318.2 L979.1,316.0 L980.4,313.9 L981.6,311.7 L982.9,309.6 L984.2,307.4 L985.5,305.3 L986.8,303.1 L988.2,300.9 L989.5,298.8 L990.8,296.6 L992.1,294.5 L993.5,292.3 L994.9,290.1 L996.2,288.0 L997.6,285.8 L999.0,283.6 L1000.4,281.5 L1001.8,279.3 L1003.3,277.2 L1004.7,275.0 L1006.2,272.9 L1007.7,270.8 L1009.2,268.7 L1010.7,266.6 L1012.3,264.6 L1013.8,262.6 L1015.4,260.6 L1017.0,258.6 L1018.7,256.7 L1020.4,254.8 L1022.1,252.9 L1023.8,251.1 L1025.6,249.3 L1027.3,247.6 L1029.2,245.9 L1031.0,244.2 L1032.9,242.6 L1034.8,241.1 L1036.8,239.6 L1038.8,238.1 L1040.8,236.7 L1042.8,235.3 L1044.9,234.0 L1047.0,232.7 L1049.1,231.4 L1051.2,230.2 L1053.4,229.1 L1055.6,227.9 L1057.8,226.8 L1060.0,225.8 L1062.3,224.7 L1064.6,223.8 L1066.9,222.8 L1069.2,221.9 L1071.5,221.0 L1073.9,220.2 L1076.2,219.4 L1078.6,218.6 L1081.0,217.9 L1083.4,217.2 L1085.8,216.5 L1088.3,215.8 L1090.7,215.2 L1093.2,214.6 L1095.7,214.1 L1098.1,213.5 L1100.6,213.0 L1103.1,212.5 L1105.6,212.1 L1108.1,211.7 L1110.7,211.3 L1113.2,210.9 L1115.7,210.5 L1118.2,210.2 L1120.8,209.9 L1123.3,209.6 L1125.8,209.4 L1128.4,209.1 L1130.9,208.9 L1133.5,208.7 L1136.0,208.5 L1138.5,208.4 L1141.1,208.2 L1143.6,208.1 L1146.1,208.0 L1148.7,207.9 L1151.2,207.8 L1153.7,207.8 L1156.3,207.8 L1158.8,207.8 L1161.3,207.8 L1163.8,207.8 L1166.4,207.9 L1168.9,207.9 L1171.4,208.0 L1173.9,208.1 L1176.4,208.3 L1178.9,208.4 L1181.5,208.6 L1184.0,208.8 L1186.5,209.0 L1189.0,209.2 L1191.5,209.4 L1194.0,209.7 L1196.5,210.0 L1199.0,210.3 L1201.4,210.6 L1203.9,210.9 L1206.4,211.3 L1208.9,211.6 L1211.4,212.0 L1213.8,212.4 L1216.3,212.9 L1218.8,213.3 L1221.2,213.8 L1223.6,214.3 L1226.0,215.0 L1228.2,215.7 L1230.4,216.6 L1232.5,217.6 L1234.4,218.7 L1236.2,220.1 L1237.9,221.7 L1239.3,223.5 L1240.5,225.5 L1241.6,227.9 L1242.3,230.5 L1242.8,233.5 L1243.0,236.8" fill="none" stroke="#2a7af5" stroke-width="4.6" stroke-linecap="round" stroke-linejoin="round"/>
<path d="M1239.7,226.0 C1240.2,227.8 1242.4,234.8 1242.9,236.6" fill="none" stroke="#8ab8fa" stroke-width="4" stroke-linecap="round" stroke-linejoin="round"/>
<circle cx="1247.0" cy="277.0" r="2" fill="#a0c0f8"/>
<path d="M912.0,584.0 C912.3,573.3 913.2,539.0 914.0,520.0 C914.7,503.3 916.0,482.3 917.0,470.0 C917.6,462.0 915.9,453.1 919.7,446.0 C923.5,438.8 932.7,433.0 939.7,427.0 C948.8,419.2 962.9,407.7 974.4,399.3 C985.5,391.2 997.4,383.8 1009.0,376.7 C1020.4,369.7 1032.2,362.6 1043.8,356.8 C1055.1,351.2 1066.9,346.3 1078.5,342.0 C1089.9,337.7 1101.7,333.8 1113.2,330.8 C1124.6,327.8 1139.2,325.5 1147.8,323.8 C1153.5,322.6 1159.2,321.4 1165.0,320.4 C1173.7,318.9 1188.2,315.9 1200.0,315.0 C1219.2,313.6 1255.0,312.2 1280.0,312.0 C1303.3,311.8 1333.3,313.0 1350.0,314.0 C1360.1,314.6 1373.5,316.5 1380.0,318.0 C1383.3,318.8 1387.4,320.0 1389.0,323.0 C1391.0,326.7 1391.5,337.2 1392.0,340.0" fill="none" stroke="#e0201a" stroke-width="5" stroke-linecap="round" stroke-linejoin="round"/>
<path d="M912.0,584.0 C912.3,573.3 913.2,538.2 914.0,520.0 C914.7,505.0 916.0,486.2 917.0,475.0 C917.6,467.6 916.1,459.5 919.7,453.0 C923.5,446.2 932.6,439.8 939.7,434.0 C948.8,426.5 962.9,415.8 974.4,408.0 C985.6,400.4 997.4,393.3 1009.0,387.1 C1020.3,381.0 1032.2,375.5 1043.8,370.7 C1055.1,366.0 1066.9,362.0 1078.5,358.5 C1089.9,355.1 1101.7,352.6 1113.2,349.8 C1124.7,347.1 1139.2,343.7 1147.8,342.0 C1153.5,340.9 1159.2,340.0 1165.0,339.4 C1173.7,338.5 1188.3,337.2 1200.0,336.5 C1212.5,335.8 1226.7,335.3 1240.0,335.0 C1260.0,334.6 1298.3,333.5 1320.0,334.0 C1336.7,334.4 1356.7,335.7 1370.0,338.0 C1380.4,339.8 1391.7,344.0 1400.0,348.0 C1407.3,351.5 1415.3,357.7 1420.0,362.0 C1423.5,365.3 1426.7,372.0 1428.0,374.0" fill="none" stroke="#1a5a1a" stroke-width="3" stroke-linecap="round" stroke-linejoin="round"/>
<circle cx="1428.0" cy="378.0" r="1.8" fill="#1a5a1a"/>
<path d="M912.0,584.0 C912.3,573.3 913.2,537.3 914.0,520.0 C914.6,506.6 916.2,489.4 917.0,480.0 C917.5,474.5 915.8,468.1 918.9,463.5 C922.7,457.9 932.4,451.4 939.7,446.1 C949.0,439.5 962.9,431.1 974.4,423.6 C985.9,416.1 997.4,407.7 1009.0,401.0 C1020.2,394.5 1032.2,389.2 1043.8,383.7 C1055.3,378.3 1066.9,372.4 1078.5,368.0 C1089.8,363.7 1101.7,360.9 1113.2,357.6 C1124.7,354.3 1139.2,350.4 1147.8,348.1 C1153.5,346.6 1159.2,344.8 1165.0,343.8 C1173.7,342.3 1188.3,340.5 1200.0,339.0 C1212.5,337.4 1226.6,334.9 1240.0,334.0 C1260.0,332.7 1296.7,331.2 1320.0,331.0 C1340.0,330.9 1365.0,331.8 1380.0,333.0 C1390.1,333.8 1401.7,335.5 1410.0,338.0 C1417.1,340.1 1425.0,343.3 1430.0,348.0 C1435.0,352.7 1437.7,359.5 1440.0,366.0 C1442.3,372.7 1443.3,384.3 1444.0,388.0" fill="none" stroke="#1a2ad0" stroke-width="3" stroke-linecap="round" stroke-linejoin="round"/>
<circle cx="1444.0" cy="393.0" r="2" fill="#9aa0f0"/>
<ellipse cx="1045.1" cy="209.7" rx="16.5" ry="32.5" fill="none" stroke="#111" stroke-width="1.8" stroke-dasharray="7,4"/>
<ellipse cx="1168" cy="330" rx="12" ry="27" fill="none" stroke="#111" stroke-width="1.8" stroke-dasharray="6,4"/>
<line x1="1273.0" y1="122.0" x2="1261.7" y2="132.0" stroke="#10d030" stroke-width="1.6"/>
<polygon points="1255.0,138.0 1258.7,128.7 1264.7,135.4" fill="#10d030"/>
<line x1="1154.0" y1="174.0" x2="1143.9" y2="182.3" stroke="#b08040" stroke-width="1.6"/>
<polygon points="1137.0,188.0 1141.1,178.8 1146.8,185.8" fill="#b08040"/>
<line x1="1248.0" y1="199.0" x2="1237.7" y2="208.0" stroke="#1a3aff" stroke-width="1.6"/>
<polygon points="1231.0,214.0 1234.8,204.7 1240.7,211.4" fill="#1a3aff"/>
<line x1="1389.0" y1="296.0" x2="1376.5" y2="304.1" stroke="#f04020" stroke-width="1.6"/>
<polygon points="1369.0,309.0 1374.1,300.3 1379.0,307.9" fill="#f04020"/>
<line x1="1448.0" y1="329.0" x2="1441.9" y2="338.4" stroke="#1a3aff" stroke-width="1.6"/>
<polygon points="1437.0,346.0 1438.1,336.0 1445.7,340.9" fill="#1a3aff"/>
<line x1="1394.0" y1="390.0" x2="1408.6" y2="370.2" stroke="#6a9a30" stroke-width="1.6"/>
<polygon points="1414.0,363.0 1412.3,372.9 1405.0,367.6" fill="#6a9a30"/>
<text x="1275.9" y="131.0" font-size="24.5" fill="#80f040" stroke="#80f040" stroke-width="0.3" textLength="63.0" lengthAdjust="spacingAndGlyphs" xml:space="preserve">ND-C</text>
<text x="1151.9" y="179.5" font-size="24.5" fill="#7a1010" stroke="#7a1010" stroke-width="0.3" textLength="64.1" lengthAdjust="spacingAndGlyphs" xml:space="preserve">RD-C</text>
<text x="1247.4" y="209.6" font-size="24.5" fill="#1a3ad8" stroke="#1a3ad8" stroke-width="0.3" textLength="58.5" lengthAdjust="spacingAndGlyphs" xml:space="preserve">TD-C</text>
<text x="1060.7" y="270.0" font-size="33" fill="#111" stroke="#111" stroke-width="0.3" textLength="204.0" lengthAdjust="spacingAndGlyphs" xml:space="preserve">Compression</text>
<text x="1390.2" y="302.0" font-size="21.5" fill="#f0401a" stroke="#f0401a" stroke-width="0.3" textLength="52.3" lengthAdjust="spacingAndGlyphs" xml:space="preserve">RD-T</text>
<text x="1403.5" y="327.0" font-size="24.5" fill="#1a2ad0" stroke="#1a2ad0" stroke-width="0.3" textLength="55.1" lengthAdjust="spacingAndGlyphs" xml:space="preserve">TD-T</text>
<text x="1136.8" y="395.0" font-size="33" fill="#111" stroke="#111" stroke-width="0.3" textLength="117.9" lengthAdjust="spacingAndGlyphs" xml:space="preserve">Tension</text>
<text x="1373.0" y="410.0" font-size="24.5" fill="#1a6a1a" stroke="#1a6a1a" stroke-width="0.3" textLength="59.6" lengthAdjust="spacingAndGlyphs" xml:space="preserve">DD-T</text>
<rect x="158.4" y="715.2" width="562.2" height="562.2" fill="none" stroke="#222" stroke-width="1.8"/>
<path d="M158.8,725.2V715.6H168.4M710.6,715.6H720.2V725.2M158.8,1267.4V1277.0H168.4M710.6,1277.0H720.2V1267.4" stroke="#111" stroke-width="2.6" fill="none"/>
<path d="M252.1,1277.4V1267.4M252.1,715.2V725.2M345.8,1277.4V1267.4M345.8,715.2V725.2M439.5,1277.4V1267.4M439.5,715.2V725.2M533.2,1277.4V1267.4M533.2,715.2V725.2M626.9,1277.4V1267.4M626.9,715.2V725.2M158.4,1165.0H168.4M720.6,1165.0H710.6M158.4,1052.5H168.4M720.6,1052.5H710.6M158.4,940.1H168.4M720.6,940.1H710.6M158.4,827.6H168.4M720.6,827.6H710.6" stroke="#222" stroke-width="1.8" fill="none"/>
<text x="143.0" y="1283.4" font-size="29.5" fill="#111" stroke="#111" stroke-width="0.3" text-anchor="end" textLength="15.3" lengthAdjust="spacingAndGlyphs" xml:space="preserve">0</text>
<text x="143.0" y="1171.0" font-size="29.5" fill="#111" stroke="#111" stroke-width="0.3" text-anchor="end" textLength="45.9" lengthAdjust="spacingAndGlyphs" xml:space="preserve">100</text>
<text x="143.0" y="1058.5" font-size="29.5" fill="#111" stroke="#111" stroke-width="0.3" text-anchor="end" textLength="45.9" lengthAdjust="spacingAndGlyphs" xml:space="preserve">200</text>
<text x="143.0" y="946.1" font-size="29.5" fill="#111" stroke="#111" stroke-width="0.3" text-anchor="end" textLength="45.9" lengthAdjust="spacingAndGlyphs" xml:space="preserve">300</text>
<text x="143.0" y="833.6" font-size="29.5" fill="#111" stroke="#111" stroke-width="0.3" text-anchor="end" textLength="45.9" lengthAdjust="spacingAndGlyphs" xml:space="preserve">400</text>
<text x="143.0" y="721.2" font-size="29.5" fill="#111" stroke="#111" stroke-width="0.3" text-anchor="end" textLength="45.9" lengthAdjust="spacingAndGlyphs" xml:space="preserve">500</text>
<text x="255.0" y="1309.0" font-size="28" fill="#111" stroke="#111" stroke-width="0.3" text-anchor="middle" textLength="41.0" lengthAdjust="spacingAndGlyphs" xml:space="preserve">RD</text>
<text x="465.8" y="1309.0" font-size="28" fill="#111" stroke="#111" stroke-width="0.3" text-anchor="middle" textLength="93.5" lengthAdjust="spacingAndGlyphs" xml:space="preserve">DD/ND</text>
<text x="671.5" y="1309.0" font-size="28" fill="#111" stroke="#111" stroke-width="0.3" text-anchor="middle" textLength="35.5" lengthAdjust="spacingAndGlyphs" xml:space="preserve">TD</text>
<text x="319.9" y="1369.0" font-size="31" fill="#111" stroke="#111" stroke-width="0.3" textLength="239.6" lengthAdjust="spacingAndGlyphs" xml:space="preserve">Loading direction</text>
<text x="48.7" y="1300.5" font-size="53" fill="#111" stroke="#111" stroke-width="0.3" textLength="62.7" lengthAdjust="spacingAndGlyphs" xml:space="preserve">(c)</text>
<text transform="translate(44.8,1162.7) rotate(-90)" x="0" y="0" font-size="33" fill="#111" stroke="#111" stroke-width="0.3" textLength="326.3" lengthAdjust="spacingAndGlyphs" xml:space="preserve">0.2% yield stress, MPa</text>
<rect x="242.2" y="967.2" width="19" height="19" fill="#dd1e00"/>
<circle cx="251.7" cy="1068.5" r="9.5" fill="#1020c8"/>
<rect x="242.7" y="1099.3" width="18" height="18" fill="#fff" stroke="#8a8a8a" stroke-width="1.2"/>
<polygon points="242.2,1117.8 261.2,1098.8 261.2,1117.8" fill="#000"/>
<path d="M251.7,1132.0V1151.0M248.7,1132.0H254.7M248.7,1151.0H254.7" stroke="#a0c8a8" stroke-width="1.2" fill="none"/>
<polygon points="251.7,1122.8 260.9,1132.0 251.7,1141.2 242.5,1132.0" fill="#c0160a"/>
<rect x="453.5" y="975.0" width="19" height="19" fill="#dd1e00"/>
<circle cx="463.0" cy="972.0" r="9.5" fill="#1020c8"/>
<path d="M463.0,1035.0V1066.4M460.0,1035.0H466.0M460.0,1066.4H466.0" stroke="#aaa" stroke-width="1.2" fill="none"/>
<rect x="454.0" y="1042.0" width="18" height="18" fill="#fff" stroke="#8a8a8a" stroke-width="1.2"/>
<polygon points="453.5,1060.5 472.5,1041.5 472.5,1060.5" fill="#000"/>
<polygon points="463.0,1134.8 472.2,1144.0 463.0,1153.2 453.8,1144.0" fill="#c0160a"/>
<rect x="664.9" y="1026.8" width="19" height="19" fill="#dd1e00"/>
<circle cx="674.4" cy="1089.0" r="9.5" fill="#1020c8"/>
<rect x="665.4" y="1092.7" width="18" height="18" fill="#fff" stroke="#8a8a8a" stroke-width="1.2"/>
<polygon points="664.9,1111.2 683.9,1092.2 683.9,1111.2" fill="#000"/>
<polygon points="674.4,1149.8 683.6,1159.0 674.4,1168.2 665.2,1159.0" fill="#c0160a"/>
<text x="275.9" y="988.0" font-size="28" fill="#f0280a" stroke="#f0280a" stroke-width="0.3" textLength="62.9" lengthAdjust="spacingAndGlyphs" xml:space="preserve">PA-T</text>
<text x="273.7" y="1079.5" font-size="28" fill="#1a6af5" stroke="#1a6af5" stroke-width="0.3" textLength="66.8" lengthAdjust="spacingAndGlyphs" xml:space="preserve">PA-C</text>
<text x="273.9" y="1119.0" font-size="28" fill="#111" stroke="#111" stroke-width="0.3" textLength="69.1" lengthAdjust="spacingAndGlyphs" xml:space="preserve">AN-C</text>
<text x="274.9" y="1148.3" font-size="28" fill="#e02010" stroke="#e02010" stroke-width="0.3" textLength="66.7" lengthAdjust="spacingAndGlyphs" xml:space="preserve">AN-T</text>
<rect x="922.7" y="715.2" width="561.9" height="562.4" fill="none" stroke="#222" stroke-width="1.8"/>
<path d="M923.1,725.2V715.6H932.7M1474.6,715.6H1484.2V725.2M923.1,1267.6V1277.2H932.7M1474.6,1277.2H1484.2V1267.6" stroke="#111" stroke-width="2.6" fill="none"/>
<path d="M1016.4,1277.6V1267.6M1016.4,715.2V725.2M1110.0,1277.6V1267.6M1110.0,715.2V725.2M1203.7,1277.6V1267.6M1203.7,715.2V725.2M1297.3,1277.6V1267.6M1297.3,715.2V725.2M1390.9,1277.6V1267.6M1390.9,715.2V725.2M922.7,1165.1H932.7M1484.6,1165.1H1474.6M922.7,1052.6H932.7M1484.6,1052.6H1474.6M922.7,940.2H932.7M1484.6,940.2H1474.6M922.7,827.7H932.7M1484.6,827.7H1474.6" stroke="#222" stroke-width="1.8" fill="none"/>
<text x="908.0" y="1283.6" font-size="29.5" fill="#111" stroke="#111" stroke-width="0.3" text-anchor="end" textLength="15.3" lengthAdjust="spacingAndGlyphs" xml:space="preserve">0</text>
<text x="908.0" y="1171.1" font-size="29.5" fill="#111" stroke="#111" stroke-width="0.3" text-anchor="end" textLength="45.9" lengthAdjust="spacingAndGlyphs" xml:space="preserve">100</text>
<text x="908.0" y="1058.6" font-size="29.5" fill="#111" stroke="#111" stroke-width="0.3" text-anchor="end" textLength="45.9" lengthAdjust="spacingAndGlyphs" xml:space="preserve">200</text>
<text x="908.0" y="946.2" font-size="29.5" fill="#111" stroke="#111" stroke-width="0.3" text-anchor="end" textLength="45.9" lengthAdjust="spacingAndGlyphs" xml:space="preserve">300</text>
<text x="908.0" y="833.7" font-size="29.5" fill="#111" stroke="#111" stroke-width="0.3" text-anchor="end" textLength="45.9" lengthAdjust="spacingAndGlyphs" xml:space="preserve">400</text>
<text x="908.0" y="721.2" font-size="29.5" fill="#111" stroke="#111" stroke-width="0.3" text-anchor="end" textLength="45.9" lengthAdjust="spacingAndGlyphs" xml:space="preserve">500</text>
<text x="1017.5" y="1307.0" font-size="28" fill="#111" stroke="#111" stroke-width="0.3" text-anchor="middle" textLength="41.0" lengthAdjust="spacingAndGlyphs" xml:space="preserve">RD</text>
<text x="1225.0" y="1307.0" font-size="28" fill="#111" stroke="#111" stroke-width="0.3" text-anchor="middle" textLength="93.5" lengthAdjust="spacingAndGlyphs" xml:space="preserve">DD/ND</text>
<text x="1427.0" y="1307.0" font-size="28" fill="#111" stroke="#111" stroke-width="0.3" text-anchor="middle" textLength="35.5" lengthAdjust="spacingAndGlyphs" xml:space="preserve">TD</text>
<text x="1084.9" y="1369.5" font-size="31" fill="#111" stroke="#111" stroke-width="0.3" textLength="239.6" lengthAdjust="spacingAndGlyphs" xml:space="preserve">Loading direction</text>
<text x="820.6" y="1300.5" font-size="53" fill="#111" stroke="#111" stroke-width="0.3" textLength="67.3" lengthAdjust="spacingAndGlyphs" xml:space="preserve">(d)</text>
<text transform="translate(810.6,1178.6) rotate(-90)" x="0" y="0" font-size="34" fill="#111" stroke="#111" stroke-width="0.3" textLength="376.5" lengthAdjust="spacingAndGlyphs" xml:space="preserve">Peak (ultimate) stress ,MPa</text>
<path d="M1016.0,764.3V797.4M1013.0,764.3H1019.0M1013.0,797.4H1019.0" stroke="#9090e8" stroke-width="1.2" fill="none"/>
<circle cx="1016.0" cy="780.6" r="9.5" fill="#1020c8"/>
<path d="M1016.0,843.0V881.0M1013.0,843.0H1019.0M1013.0,881.0H1019.0" stroke="#aaa" stroke-width="1.2" fill="none"/>
<rect x="1007.0" y="852.5" width="18" height="18" fill="#fff" stroke="#8a8a8a" stroke-width="1.2"/>
<polygon points="1006.5,871.0 1025.5,852.0 1025.5,871.0" fill="#000"/>
<rect x="1006.5" y="922.5" width="19" height="19" fill="#dd1e00"/>
<polygon points="1016.0,1002.4 1025.2,1011.6 1016.0,1020.8 1006.8,1011.6" fill="#c0160a"/>
<path d="M1227.0,776.4V825.0M1224.0,776.4H1230.0M1224.0,825.0H1230.0" stroke="#aaa" stroke-width="1.2" fill="none"/>
<rect x="1218.0" y="796.0" width="18" height="18" fill="#fff" stroke="#8a8a8a" stroke-width="1.2"/>
<polygon points="1217.5,814.5 1236.5,795.5 1236.5,814.5" fill="#000"/>
<circle cx="1227.0" cy="833.6" r="9.5" fill="#1020c8"/>
<rect x="1217.5" y="936.5" width="19" height="19" fill="#dd1e00"/>
<polygon points="1227.0,1009.2 1236.2,1018.4 1227.0,1027.6 1217.8,1018.4" fill="#c0160a"/>
<path d="M1438.6,770.0V797.0M1435.6,770.0H1441.6M1435.6,797.0H1441.6" stroke="#9090e8" stroke-width="1.2" fill="none"/>
<circle cx="1438.6" cy="784.4" r="9.5" fill="#1020c8"/>
<path d="M1438.6,897.0V928.0M1435.6,897.0H1441.6M1435.6,928.0H1441.6" stroke="#aaa" stroke-width="1.2" fill="none"/>
<rect x="1429.6" y="903.3" width="18" height="18" fill="#fff" stroke="#8a8a8a" stroke-width="1.2"/>
<polygon points="1429.1,921.8 1448.1,902.8 1448.1,921.8" fill="#000"/>
<rect x="1429.1" y="951.5" width="19" height="19" fill="#dd1e00"/>
<polygon points="1438.6,1007.8 1447.8,1017.0 1438.6,1026.2 1429.4,1017.0" fill="#c0160a"/>
<text x="1035.7" y="790.0" font-size="28" fill="#1a6af5" stroke="#1a6af5" stroke-width="0.3" textLength="66.3" lengthAdjust="spacingAndGlyphs" xml:space="preserve">PA-C</text>
<text x="1042.7" y="870.8" font-size="28" fill="#111" stroke="#111" stroke-width="0.3" textLength="68.8" lengthAdjust="spacingAndGlyphs" xml:space="preserve">AN-C</text>
<text x="1037.2" y="942.5" font-size="28" fill="#f0280a" stroke="#f0280a" stroke-width="0.3" textLength="63.4" lengthAdjust="spacingAndGlyphs" xml:space="preserve">PA-T</text>
<text x="1038.5" y="1021.0" font-size="28" fill="#e02010" stroke="#e02010" stroke-width="0.3" textLength="66.1" lengthAdjust="spacingAndGlyphs" xml:space="preserve">AN-T</text>
<rect x="166.0" y="1411.0" width="561.5" height="561.5" fill="none" stroke="#222" stroke-width="1.8"/>
<path d="M166.4,1421.0V1411.4H176.0M717.5,1411.4H727.1V1421.0M166.4,1962.5V1972.1H176.0M717.5,1972.1H727.1V1962.5" stroke="#111" stroke-width="2.6" fill="none"/>
<path d="M259.6,1972.5V1962.5M259.6,1411.0V1421.0M353.2,1972.5V1962.5M353.2,1411.0V1421.0M446.8,1972.5V1962.5M446.8,1411.0V1421.0M540.3,1972.5V1962.5M540.3,1411.0V1421.0M633.9,1972.5V1962.5M633.9,1411.0V1421.0M166.0,1902.3H176.0M727.5,1902.3H717.5M166.0,1832.1H176.0M727.5,1832.1H717.5M166.0,1761.9H176.0M727.5,1761.9H717.5M166.0,1691.8H176.0M727.5,1691.8H717.5M166.0,1621.6H176.0M727.5,1621.6H717.5M166.0,1551.4H176.0M727.5,1551.4H717.5M166.0,1481.2H176.0M727.5,1481.2H717.5" stroke="#222" stroke-width="1.8" fill="none"/>
<text x="150.5" y="1978.5" font-size="29.5" fill="#111" stroke="#111" stroke-width="0.3" text-anchor="end" textLength="15.3" lengthAdjust="spacingAndGlyphs" xml:space="preserve">0</text>
<text x="150.5" y="1908.3" font-size="29.5" fill="#111" stroke="#111" stroke-width="0.3" text-anchor="end" textLength="15.3" lengthAdjust="spacingAndGlyphs" xml:space="preserve">5</text>
<text x="150.5" y="1838.1" font-size="29.5" fill="#111" stroke="#111" stroke-width="0.3" text-anchor="end" textLength="30.6" lengthAdjust="spacingAndGlyphs" xml:space="preserve">10</text>
<text x="150.5" y="1767.9" font-size="29.5" fill="#111" stroke="#111" stroke-width="0.3" text-anchor="end" textLength="30.6" lengthAdjust="spacingAndGlyphs" xml:space="preserve">15</text>
<text x="150.5" y="1697.8" font-size="29.5" fill="#111" stroke="#111" stroke-width="0.3" text-anchor="end" textLength="30.6" lengthAdjust="spacingAndGlyphs" xml:space="preserve">20</text>
<text x="150.5" y="1627.6" font-size="29.5" fill="#111" stroke="#111" stroke-width="0.3" text-anchor="end" textLength="30.6" lengthAdjust="spacingAndGlyphs" xml:space="preserve">25</text>
<text x="150.5" y="1557.4" font-size="29.5" fill="#111" stroke="#111" stroke-width="0.3" text-anchor="end" textLength="30.6" lengthAdjust="spacingAndGlyphs" xml:space="preserve">30</text>
<text x="150.5" y="1487.2" font-size="29.5" fill="#111" stroke="#111" stroke-width="0.3" text-anchor="end" textLength="30.6" lengthAdjust="spacingAndGlyphs" xml:space="preserve">35</text>
<text x="150.5" y="1417.0" font-size="29.5" fill="#111" stroke="#111" stroke-width="0.3" text-anchor="end" textLength="30.6" lengthAdjust="spacingAndGlyphs" xml:space="preserve">40</text>
<text x="253.8" y="2004.5" font-size="28" fill="#111" stroke="#111" stroke-width="0.3" text-anchor="middle" textLength="41.0" lengthAdjust="spacingAndGlyphs" xml:space="preserve">RD</text>
<text x="465.0" y="2004.5" font-size="28" fill="#111" stroke="#111" stroke-width="0.3" text-anchor="middle" textLength="93.5" lengthAdjust="spacingAndGlyphs" xml:space="preserve">DD/ND</text>
<text x="672.5" y="2004.5" font-size="28" fill="#111" stroke="#111" stroke-width="0.3" text-anchor="middle" textLength="35.5" lengthAdjust="spacingAndGlyphs" xml:space="preserve">TD</text>
<text x="324.9" y="2064.5" font-size="31" fill="#111" stroke="#111" stroke-width="0.3" textLength="242.2" lengthAdjust="spacingAndGlyphs" xml:space="preserve">Loading direction</text>
<text x="58.1" y="2037.5" font-size="53" fill="#111" stroke="#111" stroke-width="0.3" textLength="66.2" lengthAdjust="spacingAndGlyphs" xml:space="preserve">(e)</text>
<text transform="translate(51.2,1819.6) rotate(-90)" x="0" y="0" font-size="32.5" fill="#111" stroke="#111" stroke-width="0.3" textLength="262.8" lengthAdjust="spacingAndGlyphs" xml:space="preserve">Total elongation, %</text>
<path d="M258.0,1529.5V1591.5M255.0,1529.5H261.0M255.0,1591.5H261.0" stroke="#a8c8b0" stroke-width="1.2" fill="none"/>
<polygon points="258.0,1551.3 267.2,1560.5 258.0,1569.7 248.8,1560.5" fill="#c0160a"/>
<path d="M258.3,1734.0V1767.5M255.3,1734.0H261.3M255.3,1767.5H261.3" stroke="#999" stroke-width="1.2" fill="none"/>
<rect x="249.3" y="1741.5" width="18" height="18" fill="#fff" stroke="#8a8a8a" stroke-width="1.2"/>
<polygon points="248.8,1760.0 267.8,1741.0 267.8,1760.0" fill="#000"/>
<path d="M258.3,1825.0V1849.0M255.3,1825.0H261.3M255.3,1849.0H261.3" stroke="#f09090" stroke-width="1.2" fill="none"/>
<rect x="248.8" y="1839.5" width="19" height="19" fill="#dd1e00"/>
<circle cx="258.3" cy="1863.0" r="9.5" fill="#1020c8"/>
<path d="M469.5,1470.0V1538.0M466.5,1470.0H472.5M466.5,1538.0H472.5" stroke="#a8c8b0" stroke-width="1.2" fill="none"/>
<polygon points="469.5,1494.9 478.7,1504.1 469.5,1513.3 460.3,1504.1" fill="#c0160a"/>
<path d="M469.5,1616.8V1697.0M466.5,1616.8H472.5M466.5,1697.0H472.5" stroke="#aaa" stroke-width="1.2" fill="none"/>
<rect x="460.5" y="1647.0" width="18" height="18" fill="#fff" stroke="#8a8a8a" stroke-width="1.2"/>
<polygon points="460.0,1665.5 479.0,1646.5 479.0,1665.5" fill="#000"/>
<rect x="460.0" y="1697.5" width="19" height="19" fill="#dd1e00"/>
<path d="M469.5,1833.0V1872.7M466.5,1833.0H472.5M466.5,1872.7H472.5" stroke="#9090e8" stroke-width="1.2" fill="none"/>
<circle cx="469.5" cy="1853.5" r="9.5" fill="#1020c8"/>
<polygon points="680.9,1503.8 690.1,1513.0 680.9,1522.2 671.7,1513.0" fill="#c0160a"/>
<path d="M680.9,1655.8V1706.4M677.9,1655.8H683.9M677.9,1706.4H683.9" stroke="#c09090" stroke-width="1.2" fill="none"/>
<rect x="671.4" y="1673.5" width="19" height="19" fill="#dd1e00"/>
<rect x="671.9" y="1672.0" width="18" height="18" fill="#fff" stroke="#8a8a8a" stroke-width="1.2"/>
<polygon points="671.4,1690.5 690.4,1671.5 690.4,1690.5" fill="#000"/>
<path d="M680.9,1820.0V1865.6M677.9,1820.0H683.9M677.9,1865.6H683.9" stroke="#9090e8" stroke-width="1.2" fill="none"/>
<circle cx="680.9" cy="1843.4" r="9.5" fill="#1020c8"/>
<text x="284.4" y="1570.5" font-size="28" fill="#e02010" stroke="#e02010" stroke-width="0.3" textLength="66.2" lengthAdjust="spacingAndGlyphs" xml:space="preserve">AN-T</text>
<text x="281.4" y="1759.5" font-size="28" fill="#111" stroke="#111" stroke-width="0.3" textLength="68.6" lengthAdjust="spacingAndGlyphs" xml:space="preserve">AN-C</text>
<text x="277.8" y="1851.0" font-size="28" fill="#f0280a" stroke="#f0280a" stroke-width="0.3" textLength="62.4" lengthAdjust="spacingAndGlyphs" xml:space="preserve">PA-T</text>
<text x="276.2" y="1881.5" font-size="28" fill="#1a6af5" stroke="#1a6af5" stroke-width="0.3" textLength="65.8" lengthAdjust="spacingAndGlyphs" xml:space="preserve">PA-C</text>
<rect x="930.4" y="1411.6" width="562.6" height="560.4" fill="none" stroke="#222" stroke-width="1.8"/>
<path d="M930.8,1421.6V1412.0H940.4M1483.0,1412.0H1492.6V1421.6M930.8,1962.0V1971.6H940.4M1483.0,1971.6H1492.6V1962.0" stroke="#111" stroke-width="2.6" fill="none"/>
<path d="M1024.2,1972.0V1962.0M1024.2,1411.6V1421.6M1117.9,1972.0V1962.0M1117.9,1411.6V1421.6M1211.7,1972.0V1962.0M1211.7,1411.6V1421.6M1305.5,1972.0V1962.0M1305.5,1411.6V1421.6M1399.2,1972.0V1962.0M1399.2,1411.6V1421.6M930.4,1859.9H940.4M1493.0,1859.9H1483.0M930.4,1747.8H940.4M1493.0,1747.8H1483.0M930.4,1635.8H940.4M1493.0,1635.8H1483.0M930.4,1523.7H940.4M1493.0,1523.7H1483.0" stroke="#222" stroke-width="1.8" fill="none"/>
<text x="915.5" y="1978.0" font-size="29.5" fill="#111" stroke="#111" stroke-width="0.3" text-anchor="end" textLength="15.3" lengthAdjust="spacingAndGlyphs" xml:space="preserve">0</text>
<text x="915.5" y="1865.9" font-size="29.5" fill="#111" stroke="#111" stroke-width="0.3" text-anchor="end" textLength="38.2" lengthAdjust="spacingAndGlyphs" xml:space="preserve">0.5</text>
<text x="915.5" y="1753.8" font-size="29.5" fill="#111" stroke="#111" stroke-width="0.3" text-anchor="end" textLength="15.3" lengthAdjust="spacingAndGlyphs" xml:space="preserve">1</text>
<text x="915.5" y="1641.8" font-size="29.5" fill="#111" stroke="#111" stroke-width="0.3" text-anchor="end" textLength="38.2" lengthAdjust="spacingAndGlyphs" xml:space="preserve">1.5</text>
<text x="915.5" y="1529.7" font-size="29.5" fill="#111" stroke="#111" stroke-width="0.3" text-anchor="end" textLength="15.3" lengthAdjust="spacingAndGlyphs" xml:space="preserve">2</text>
<text x="915.5" y="1417.6" font-size="29.5" fill="#111" stroke="#111" stroke-width="0.3" text-anchor="end" textLength="38.2" lengthAdjust="spacingAndGlyphs" xml:space="preserve">2.5</text>
<text x="1019.2" y="2007.0" font-size="28" fill="#111" stroke="#111" stroke-width="0.3" text-anchor="middle" textLength="41.0" lengthAdjust="spacingAndGlyphs" xml:space="preserve">RD</text>
<text x="1447.0" y="2007.0" font-size="28" fill="#111" stroke="#111" stroke-width="0.3" text-anchor="middle" textLength="35.5" lengthAdjust="spacingAndGlyphs" xml:space="preserve">TD</text>
<text x="1092.4" y="2065.5" font-size="31" fill="#111" stroke="#111" stroke-width="0.3" textLength="239.6" lengthAdjust="spacingAndGlyphs" xml:space="preserve">Loading direction</text>
<text x="828.6" y="2037.5" font-size="53" fill="#111" stroke="#111" stroke-width="0.3" textLength="52.4" lengthAdjust="spacingAndGlyphs" xml:space="preserve">(f)</text>
<text transform="translate(818.0,1910.7) rotate(-90)" x="0" y="0" font-size="33.8" fill="#111" stroke="#111" stroke-width="0.3" textLength="479.8" lengthAdjust="spacingAndGlyphs" xml:space="preserve">Tension/Compression   asymmetry</text>
<polygon points="1011.7,1565.5 1030.4,1547.8 1030.4,1565.5" fill="#1aa0e0"/>
<rect x="1014.4" y="1639.2" width="19" height="19" fill="#dd1e00"/>
<polygon points="1017.3,1710.7 1017.3,1728.0 1036.0,1728.0" fill="#5a3a30"/>
<circle cx="1023.8" cy="1779.2" r="9.3" fill="#1a28d0"/>
<rect x="1015.1" y="1806.7" width="17.5" height="17.5" fill="#fff" stroke="#90c090" stroke-width="1.2"/>
<polygon points="1014.6,1824.7 1033.2,1806.2 1033.2,1824.7" fill="#0a5a10"/>
<circle cx="1023.8" cy="1829.0" r="8.3" fill="#fff" stroke="#000" stroke-width="2.2"/>
<circle cx="1023.8" cy="1829.0" r="1" fill="#555"/>
<polygon points="1440.4,1448.9 1440.4,1466.4 1458.8,1466.4" fill="#5a3a30"/>
<polygon points="1434.1,1629.0 1453.4,1610.1 1453.4,1629.0" fill="#1aa0e0"/>
<rect x="1437.3" y="1672.8" width="19" height="19" fill="#dd1e00"/>
<rect x="1437.8" y="1817.2" width="17.5" height="17.5" fill="#fff" stroke="#90c090" stroke-width="1.2"/>
<polygon points="1437.2,1835.2 1455.8,1816.8 1455.8,1835.2" fill="#0a5a10"/>
<circle cx="1446.3" cy="1812.3" r="8.3" fill="#fff" stroke="#000" stroke-width="2.2"/>
<circle cx="1446.3" cy="1812.3" r="1" fill="#555"/>
<text x="1052.2" y="1567.4" font-size="27" fill="#1aa0e0" stroke="#1aa0e0" stroke-width="0.3" textLength="80.1" lengthAdjust="spacingAndGlyphs" xml:space="preserve">AN-et·</text>
<text x="1045.6" y="1659.4" font-size="28" fill="#f0280a" stroke="#f0280a" stroke-width="0.3" textLength="62.8" lengthAdjust="spacingAndGlyphs" xml:space="preserve">PA-y</text>
<text x="1044.4" y="1730.4" font-size="27" fill="#5a4038" stroke="#5a4038" stroke-width="0.3" textLength="71.2" lengthAdjust="spacingAndGlyphs" xml:space="preserve">PA-et</text>
<text x="1046.2" y="1786.9" font-size="28" fill="#1a3af5" stroke="#1a3af5" stroke-width="0.3" textLength="66.4" lengthAdjust="spacingAndGlyphs" xml:space="preserve">AN-y</text>
<text x="1043.0" y="1823.4" font-size="27" fill="#1a6a1a" stroke="#1a6a1a" stroke-width="0.3" textLength="68.0" lengthAdjust="spacingAndGlyphs" xml:space="preserve">PA-U</text>
<text x="1042.4" y="1848.6" font-size="27" fill="#111" stroke="#111" stroke-width="0.3" textLength="68.5" lengthAdjust="spacingAndGlyphs" xml:space="preserve">AN-U</text>
</svg></body></html>
